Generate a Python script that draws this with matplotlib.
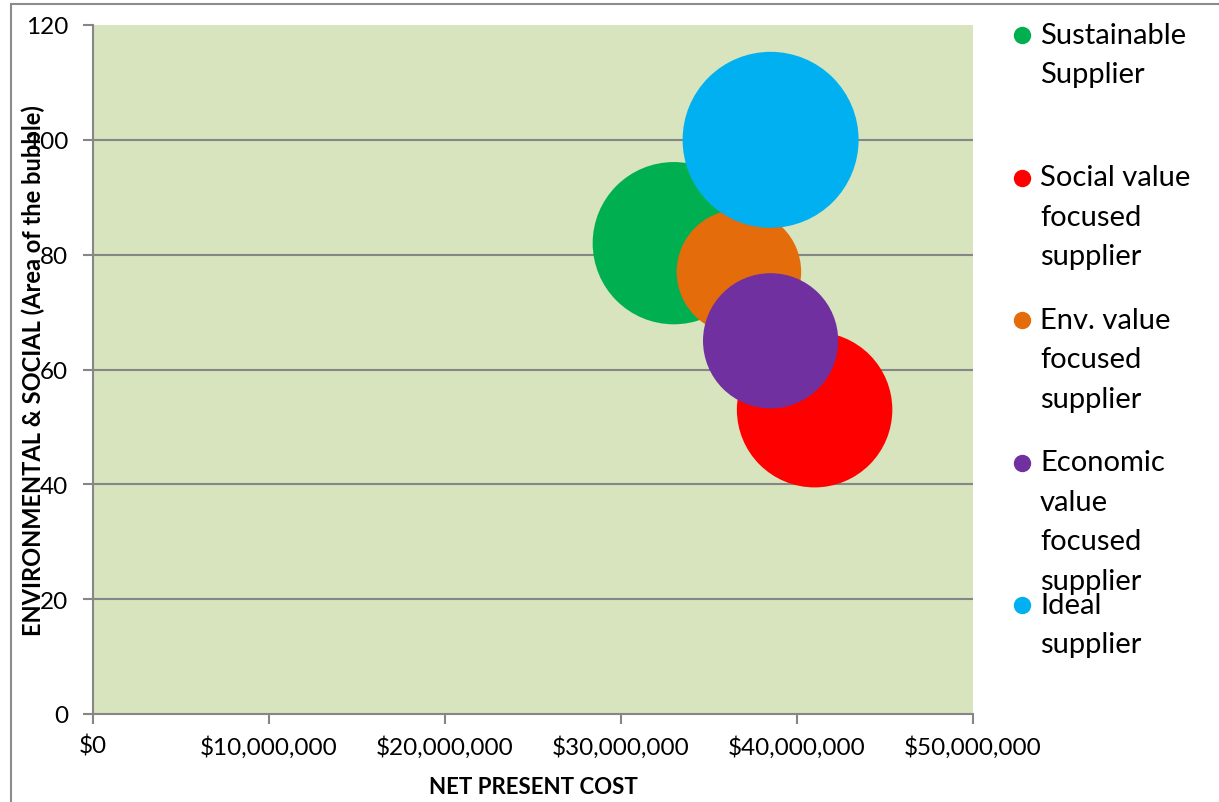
import matplotlib
matplotlib.use("Agg")
import matplotlib.pyplot as plt
from matplotlib.ticker import FuncFormatter
from matplotlib.patches import Rectangle

# ---- data ----
suppliers = ["Sustainable\nSupplier", "Social value\nfocused\nsupplier",
             "Env. value\nfocused\nsupplier", "Economic\nvalue\nfocused\nsupplier",
             "Ideal\nsupplier"]
net_present_cost = [33.0e6, 41.0e6, 36.7e6, 38.5e6, 38.5e6]
env_social = [82, 53, 77, 65, 100]
bubble_size = [85, 78, 50, 59, 100]
colors = ["#00B050", "#FF0000", "#E46C0A", "#7030A0", "#00B0F0"]
x_ticks = [0, 10e6, 20e6, 30e6, 40e6, 50e6]
y_ticks = [0, 20, 40, 60, 80, 100, 120]

plt.rcParams['font.family'] = ['Lato', 'DejaVu Sans']

W, H, DPI = 1219, 803, 100
fig = plt.figure(figsize=(W / DPI, H / DPI), dpi=DPI)
fig.patch.set_facecolor("white")

# outer chart border (left and top visible)
fig.add_artist(Rectangle((11 / W, -0.1), 1.2, (803 - 5) / H + 0.1,
                         transform=fig.transFigure, fill=False,
                         edgecolor="#8c8c8c", linewidth=1.5))

ax = fig.add_axes([93 / W, (H - 715) / H, 880 / W, 689 / H])
ax.set_facecolor("#D7E4BD")
ax.set_xlim(0, 50e6)
ax.set_ylim(0, 120)

# gridlines
for yv in y_ticks[1:-1]:
    ax.axhline(yv, color="#868686", linewidth=1.5, zorder=1)

# bubbles: area proportional to bubble_size (largest radius ~88 px)
rmax_px = 88
k = (2 * rmax_px * 72 / DPI) ** 2 / max(bubble_size)
for xv, yv, sz, c in zip(net_present_cost, env_social, bubble_size, colors):
    ax.scatter([xv], [yv], s=sz * k, color=c, edgecolors="none", zorder=3,
               clip_on=False)

for sp in ["top", "right"]:
    ax.spines[sp].set_visible(False)
for sp in ["left", "bottom"]:
    ax.spines[sp].set_color("#868686")
    ax.spines[sp].set_linewidth(1.5)

ax.set_xticks(x_ticks)
ax.set_yticks(y_ticks)
ax.xaxis.set_major_formatter(FuncFormatter(lambda v, p: "${:,.0f}".format(v)))
ax.tick_params(axis="x", direction="out", length=7, width=1.5, color="#868686",
               labelsize=17.5, pad=8)
ax.tick_params(axis="y", direction="out", length=7, width=1.5, color="#868686",
               labelsize=17.5, pad=11)

ax.set_xlabel("NET PRESENT COST", fontsize=16, fontweight="bold")
ax.xaxis.set_label_coords(0.5, -0.105)
ax.xaxis.label.set_va("center")
ax.set_ylabel("ENVIRONMENTAL & SOCIAL (Area of the bubble)", fontsize=17,
              fontweight="bold")
ax.yaxis.set_label_coords(-0.068, 0.5)
ax.yaxis.label.set_va("center")

# legend drawn manually to match the tall, wrapped entries
entry_top = 36
entry_step = 142.5
line_h = 39.5
for i, (lab, c) in enumerate(zip(suppliers, colors)):
    y0 = entry_top + i * entry_step
    fig.add_artist(plt.Line2D([1022 / W], [1 - y0 / H], marker="o",
                              markersize=11.5, color=c, linestyle="none",
                              transform=fig.transFigure))
    for j, line in enumerate(lab.split("\n")):
        fig.text(1040 / W, 1 - (y0 + j * line_h) / H, line, fontsize=21,
                 va="center", ha="left")

fig.savefig("out.png", dpi=DPI)
